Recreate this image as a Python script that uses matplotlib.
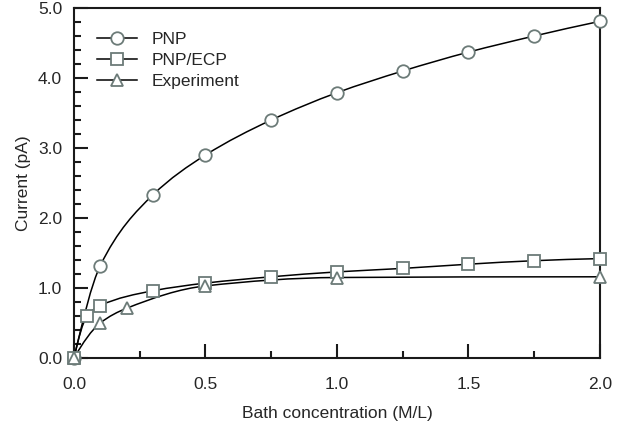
import numpy as np
import matplotlib
matplotlib.use("Agg")
import matplotlib.pyplot as plt
from matplotlib.path import Path
from matplotlib.patches import PathPatch
from matplotlib.lines import Line2D
from matplotlib.ticker import MultipleLocator, FormatStrFormatter

# bath concentration (M/L) vs. current (pA)
pnp_x = [0.0, 0.1, 0.3, 0.5, 0.75, 1.0, 1.25, 1.5, 1.75, 2.0]
pnp_y = [0.0, 1.32, 2.33, 2.90, 3.40, 3.79, 4.10, 4.37, 4.60, 4.81]

ecp_x = [0.0, 0.05, 0.1, 0.3, 0.5, 0.75, 1.0, 1.25, 1.5, 1.75, 2.0]
ecp_y = [0.0, 0.60, 0.75, 0.96, 1.07, 1.16, 1.23, 1.28, 1.34, 1.39, 1.42]

exp_x = [0.0, 0.1, 0.2, 0.5, 1.0, 2.0]
exp_y = [0.0, 0.50, 0.71, 1.03, 1.15, 1.16]

labels = ["PNP", "PNP/ECP", "Experiment"]

EDGE = "#6c7b78"
TEXT = "#262626"

plt.rcParams["font.family"] = ["Liberation Sans", "DejaVu Sans"]
plt.rcParams["font.size"] = 12.5


def smooth_path(x, y):
    """Monotone cubic (Fritsch-Carlson) through the points, as Bezier segments."""
    x = np.asarray(x, float)
    y = np.asarray(y, float)
    h = np.diff(x)
    d = np.diff(y) / h
    n = len(x)
    m = np.zeros(n)
    for i in range(1, n - 1):
        if d[i - 1] * d[i] > 0:
            w1 = 2 * h[i] + h[i - 1]
            w2 = h[i] + 2 * h[i - 1]
            m[i] = (w1 + w2) / (w1 / d[i - 1] + w2 / d[i])
    # end slopes
    m[0] = ((2 * h[0] + h[1]) * d[0] - h[0] * d[1]) / (h[0] + h[1])
    if m[0] * d[0] <= 0:
        m[0] = 0
    elif abs(m[0]) > 3 * abs(d[0]):
        m[0] = 3 * d[0]
    m[-1] = ((2 * h[-1] + h[-2]) * d[-1] - h[-1] * d[-2]) / (h[-1] + h[-2])
    if m[-1] * d[-1] <= 0:
        m[-1] = 0
    elif abs(m[-1]) > 3 * abs(d[-1]):
        m[-1] = 3 * d[-1]

    verts = [(x[0], y[0])]
    codes = [Path.MOVETO]
    for i in range(n - 1):
        verts += [(x[i] + h[i] / 3, y[i] + m[i] * h[i] / 3),
                  (x[i + 1] - h[i] / 3, y[i + 1] - m[i + 1] * h[i] / 3),
                  (x[i + 1], y[i + 1])]
        codes += [Path.CURVE4] * 3
    return Path(verts, codes)


fig = plt.figure(figsize=(6.19, 4.23), dpi=100)
ax = fig.add_axes([74 / 619, 65 / 423, 526 / 619, 350 / 423])

series = [(pnp_x, pnp_y, "o"), (ecp_x, ecp_y, "s"), (exp_x, exp_y, "^")]
marker_kw = dict(markersize=9, markerfacecolor="white", markeredgecolor=EDGE,
                 markeredgewidth=1.3)

handles = []
for (xs, ys, mk), lab in zip(series, labels):
    ax.add_patch(PathPatch(smooth_path(xs, ys), facecolor="none",
                           edgecolor="black", lw=1.1, zorder=2))
    ax.plot(xs, ys, ls="none", marker=mk, zorder=3, clip_on=False, **marker_kw)
    handles.append(Line2D([], [], color="black", lw=1.1, marker=mk, **marker_kw))

ax.set_xlim(0, 2.0)
ax.set_ylim(0, 5.0)
ax.xaxis.set_major_locator(MultipleLocator(0.5))
ax.xaxis.set_minor_locator(MultipleLocator(0.25))
ax.yaxis.set_major_locator(MultipleLocator(1.0))
ax.yaxis.set_minor_locator(MultipleLocator(0.2))
ax.xaxis.set_major_formatter(FormatStrFormatter("%.1f"))
ax.yaxis.set_major_formatter(FormatStrFormatter("%.1f"))

ax.tick_params(which="both", direction="in", top=False, right=False,
               width=1.5, color="#1a1a1a", labelcolor=TEXT)
ax.tick_params(which="major", length=10)
ax.tick_params(which="minor", length=5)
ax.tick_params(axis="x", which="major", pad=14)
ax.tick_params(axis="y", which="major", pad=8.5)

for sp in ax.spines.values():
    sp.set_linewidth(1.5)
    sp.set_color("#1a1a1a")

ax.set_xlabel("Bath concentration (M/L)", color=TEXT, labelpad=10)
ax.set_ylabel("Current (pA)", color=TEXT, labelpad=5)

leg = ax.legend(handles, labels, loc="upper left", frameon=False,
                bbox_to_anchor=(0.044, 0.932), borderpad=0, borderaxespad=0,
                handlelength=2.3, handletextpad=0.86, labelspacing=0.35,
                numpoints=1)
for t in leg.get_texts():
    t.set_color(TEXT)

fig.savefig("out.png", dpi=100)
